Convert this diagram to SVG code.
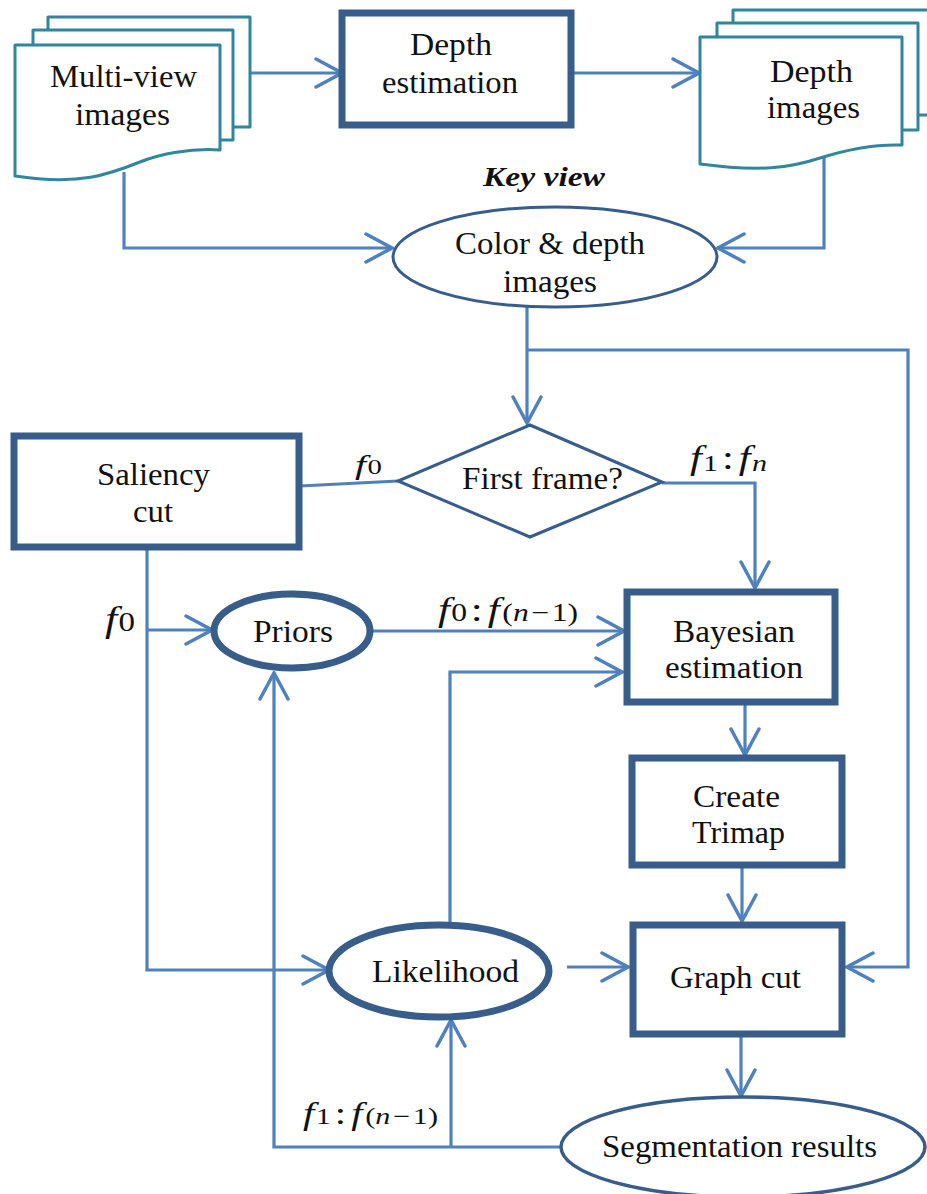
<svg xmlns="http://www.w3.org/2000/svg" width="927" height="1194" viewBox="0 0 927 1194">
  <defs>
    <marker id="arr" markerUnits="userSpaceOnUse" viewBox="0 0 30 32" refX="28" refY="16" markerWidth="30" markerHeight="32" orient="auto">
      <path d="M2,2 L28,16 L2,30" fill="none" stroke="#4f81bd" stroke-width="3.5" stroke-linecap="round"/>
    </marker>
    <style>
      text { font-family: 'Liberation Serif', serif; fill: #111; }
      .lbl { font-size: 32px; text-anchor: middle; }
      .v { font-style: italic; }
      .doc { fill: #fff; stroke: #31859c; stroke-width: 3; stroke-linejoin: round; }
      .box { fill: #fff; stroke: #385d8a; stroke-width: 7; }
      .thin { fill: #fff; stroke: #385d8a; stroke-width: 3; }
      .thick { fill: #fff; stroke: #385d8a; stroke-width: 7; }
      .conn { fill: none; stroke: #4f81bd; stroke-width: 3.2; }
      .a { marker-end: url(#arr); }
    </style>
  </defs>
  <rect width="927" height="1194" fill="#fff"/>

  <!-- connectors -->
  <g id="connectors" class="conn">
    <path class="a" d="M250,73 H342"/>
    <path class="a" d="M571,73 H699"/>
    <path class="a" d="M124,172 V248 H392"/>
    <path class="a" d="M824,158 V248 H718"/>
    <path class="a" d="M527,307 V423"/>
    <path class="a" d="M527,350 H908 V967 H847"/>
    <path d="M300,486 L398,481"/>
    <path class="a" d="M662,483 H755 V588"/>
    <path class="a" d="M147,548 V970 H329"/>
    <path class="a" d="M147,630 H212"/>
    <path class="a" d="M370,631 H624"/>
    <path class="a" d="M450,925 V672 H622"/>
    <path class="a" d="M745,703 V755"/>
    <path class="a" d="M742,866 V921"/>
    <path class="a" d="M567,967 H628"/>
    <path class="a" d="M741,1035 V1096"/>
    <path class="a" d="M562,1147 H274 V673"/>
    <path class="a" d="M451,1147 V1020"/>
  </g>

  <!-- stacked document: multi-view images -->
  <g id="multiview">
    <rect class="doc" x="48" y="17" width="202" height="110"/>
    <rect class="doc" x="33" y="30" width="200" height="110"/>
    <path class="doc" d="M15,45 H220 V150 C190,148 160,154 140,162 C110,174 80,186 15,176 Z"/>
    <text class="lbl" x="123.5" y="87" textLength="147" lengthAdjust="spacingAndGlyphs">Multi-view</text>
    <text class="lbl" x="122.5" y="125" textLength="95" lengthAdjust="spacingAndGlyphs">images</text>
  </g>

  <g id="depth-estimation">
    <rect class="box" x="342" y="13" width="229" height="112"/>
    <text class="lbl" x="451" y="55" textLength="82" lengthAdjust="spacingAndGlyphs">Depth</text>
    <text class="lbl" x="450" y="93" textLength="136" lengthAdjust="spacingAndGlyphs">estimation</text>
  </g>

  <!-- stacked document: depth images -->
  <g id="depth-images">
    <rect class="doc" x="733" y="10" width="210" height="105"/>
    <rect class="doc" x="717" y="23" width="201" height="107"/>
    <path class="doc" d="M700,37 H902 V145 C872,144 845,150 820,158 C790,168 760,172 700,164 Z"/>
    <text class="lbl" x="811.5" y="82" textLength="83" lengthAdjust="spacingAndGlyphs">Depth</text>
    <text class="lbl" x="813.5" y="118" textLength="93" lengthAdjust="spacingAndGlyphs">images</text>
  </g>

  <text id="key-view" x="544" y="186" font-size="27" font-weight="bold" font-style="italic" text-anchor="middle" textLength="122" lengthAdjust="spacingAndGlyphs">Key view</text>

  <g id="color-depth">
    <ellipse class="thin" cx="555" cy="257" rx="162" ry="50"/>
    <text class="lbl" x="550" y="254" textLength="190" lengthAdjust="spacingAndGlyphs">Color &amp; depth</text>
    <text class="lbl" x="550" y="292" textLength="94" lengthAdjust="spacingAndGlyphs">images</text>
  </g>

  <g id="first-frame">
    <polygon class="thin" points="530,425 662,482 530,537 398,481"/>
    <text class="lbl" x="542.5" y="489" textLength="161" lengthAdjust="spacingAndGlyphs">First frame?</text>
  </g>

  <g id="saliency-cut">
    <rect class="box" x="14" y="436" width="285" height="111"/>
    <text class="lbl" x="153.5" y="485" textLength="113" lengthAdjust="spacingAndGlyphs">Saliency</text>
    <text class="lbl" x="153" y="522" textLength="40" lengthAdjust="spacingAndGlyphs">cut</text>
  </g>

  <g id="priors">
    <ellipse class="thick" cx="292" cy="631" rx="78" ry="37"/>
    <text class="lbl" x="293" y="642" textLength="80" lengthAdjust="spacingAndGlyphs">Priors</text>
  </g>

  <g id="bayesian">
    <rect class="box" x="627" y="592" width="208" height="110"/>
    <text class="lbl" x="734" y="642" textLength="122" lengthAdjust="spacingAndGlyphs">Bayesian</text>
    <text class="lbl" x="734" y="678" textLength="138" lengthAdjust="spacingAndGlyphs">estimation</text>
  </g>

  <g id="trimap">
    <rect class="box" x="632" y="758" width="210" height="107"/>
    <text class="lbl" x="736.5" y="807" textLength="87" lengthAdjust="spacingAndGlyphs">Create</text>
    <text class="lbl" x="738.5" y="843" textLength="93" lengthAdjust="spacingAndGlyphs">Trimap</text>
  </g>

  <g id="likelihood">
    <ellipse class="thick" cx="439" cy="971" rx="110" ry="46"/>
    <text class="lbl" x="445.5" y="982" textLength="147" lengthAdjust="spacingAndGlyphs">Likelihood</text>
  </g>

  <g id="graph-cut">
    <rect class="box" x="633" y="925" width="209" height="109"/>
    <text class="lbl" x="735.5" y="988" textLength="131" lengthAdjust="spacingAndGlyphs">Graph cut</text>
  </g>

  <g id="segmentation">
    <ellipse cx="743" cy="1147" rx="182" ry="50" fill="#fff" stroke="#385d8a" stroke-width="3.5"/>
    <text class="lbl" x="739.5" y="1157" textLength="275" lengthAdjust="spacingAndGlyphs">Segmentation results</text>
  </g>

  <!-- frame-range labels -->
  <g id="labels">
    <text x="355" y="474" font-size="28" textLength="27" lengthAdjust="spacingAndGlyphs"><tspan class="v">f</tspan><tspan font-size="20" dx="1">0</tspan></text>
    <text x="105" y="631" font-size="36" textLength="30" lengthAdjust="spacingAndGlyphs"><tspan class="v">f</tspan><tspan font-size="27" dx="1">0</tspan></text>
    <text x="690" y="469" font-size="34" textLength="77" lengthAdjust="spacingAndGlyphs"><tspan class="v">f</tspan><tspan font-size="24" dy="2" dx="1">1</tspan><tspan dy="-2" dx="3">:</tspan><tspan class="v" dx="4">f</tspan><tspan class="v" font-size="24" dy="2" dx="1">n</tspan></text>
    <text x="438" y="621" font-size="34" textLength="140" lengthAdjust="spacingAndGlyphs"><tspan class="v">f</tspan><tspan font-size="25" dx="1">0</tspan><tspan dx="3">:</tspan><tspan class="v" dx="4">f</tspan><tspan font-size="25" dx="2">(</tspan><tspan class="v" font-size="25">n</tspan><tspan font-size="25" dx="2">−</tspan><tspan font-size="25" dx="2">1)</tspan></text>
    <text x="303" y="1124" font-size="31" textLength="135" lengthAdjust="spacingAndGlyphs"><tspan class="v">f</tspan><tspan font-size="23" dx="1">1</tspan><tspan dx="3">:</tspan><tspan class="v" dx="4">f</tspan><tspan font-size="23" dx="2">(</tspan><tspan class="v" font-size="23">n</tspan><tspan font-size="23" dx="2">−</tspan><tspan font-size="23" dx="2">1)</tspan></text>
  </g>
</svg>
